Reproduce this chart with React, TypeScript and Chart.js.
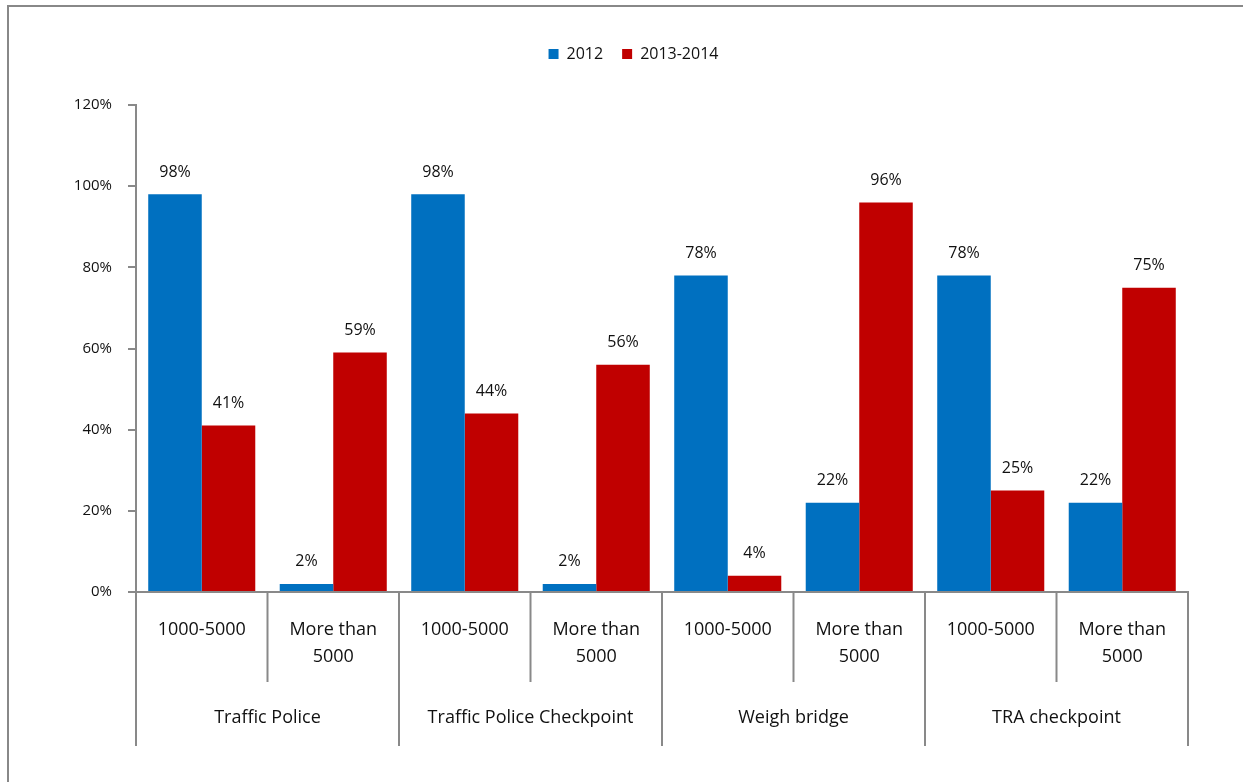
import React, { useEffect, useRef } from "react";
import { Chart, registerables } from "chart.js";

Chart.register(...registerables);

const subCategories: string[][] = [
  ["1000-5000"], ["More than", "5000"],
  ["1000-5000"], ["More than", "5000"],
  ["1000-5000"], ["More than", "5000"],
  ["1000-5000"], ["More than", "5000"],
];
const groups = ["Traffic Police", "Traffic Police Checkpoint", "Weigh bridge", "TRA checkpoint"];
const series2012 = [98, 2, 98, 2, 78, 22, 78, 22];
const series2013_2014 = [41, 59, 44, 56, 4, 96, 25, 75];
const seriesNames = ["2012", "2013-2014"];
const yMax = 120;
const yStep = 20;

const FONT = "'Open Sans', 'Noto Sans', sans-serif";
const GRAY = "#898989";
const TEXT = "#111111";

const multiLevelPlugin = {
  id: "multiLevel",
  afterDraw(chart: any) {
    const { ctx, chartArea, scales } = chart;
    const x = scales.x;
    const n = chart.data.labels.length;
    const perGroup = n / groups.length;
    const bottom = chartArea.bottom;
    ctx.save();
    ctx.strokeStyle = GRAY;
    ctx.lineWidth = 2;
    for (let i = 0; i <= n; i++) {
      const bx =
        i === 0
          ? chartArea.left
          : i === n
          ? chartArea.right
          : (x.getPixelForValue(i - 1) + x.getPixelForValue(i)) / 2;
      const len = i % perGroup === 0 ? 154 : 90;
      ctx.beginPath();
      ctx.moveTo(bx, bottom);
      ctx.lineTo(bx, bottom + len);
      ctx.stroke();
    }
    ctx.fillStyle = TEXT;
    ctx.font = `18px ${FONT}`;
    ctx.textAlign = "center";
    ctx.textBaseline = "middle";
    groups.forEach((g, gi) => {
      const cx =
        (x.getPixelForValue(gi * perGroup) + x.getPixelForValue(gi * perGroup + perGroup - 1)) / 2;
      ctx.fillText(g, cx, bottom + 126);
    });
    ctx.font = `16px ${FONT}`;
    chart.data.datasets.forEach((ds: any, di: number) => {
      chart.getDatasetMeta(di).data.forEach((bar: any, i: number) => {
        ctx.fillText(ds.data[i] + "%", bar.x, bar.y - 22);
      });
    });
    ctx.restore();
  },
};

export default function App() {
  const ref = useRef<HTMLCanvasElement | null>(null);
  useEffect(() => {
    if (!ref.current) return;
    const chart = new Chart(ref.current, {
      type: "bar",
      data: {
        labels: subCategories,
        datasets: [
          { label: seriesNames[0], data: series2012, backgroundColor: "#0070C0", borderWidth: 0 },
          { label: seriesNames[1], data: series2013_2014, backgroundColor: "#C00000", borderWidth: 0 },
        ],
      },
      options: {
        animation: false,
        responsive: false,
        devicePixelRatio: 1,
        layout: { padding: { left: 24, top: 27, right: 0, bottom: 0 } },
        datasets: { bar: { categoryPercentage: 0.814, barPercentage: 1 } },
        plugins: {
          tooltip: { enabled: false },
          legend: {
            position: "top",
            labels: {
              boxWidth: 10,
              boxHeight: 10,
              padding: 19,
              color: TEXT,
              font: { family: FONT, size: 16 },
            },
          },
        },
        scales: {
          x: {
            grid: { display: false, drawTicks: false },
            border: { display: true, color: GRAY, width: 2 },
            ticks: {
              autoSkip: false,
              maxRotation: 0,
              minRotation: 0,
              padding: 24,
              color: TEXT,
              font: { family: FONT, size: 18, lineHeight: 1.5 },
            },
            afterFit(scale: any) {
              scale.height = 190;
              scale.paddingRight = 55;
              scale.paddingLeft = 0;
            },
          },
          xTop: {
            type: "category",
            position: "top",
            grid: { display: false, drawTicks: false },
            border: { display: false },
            ticks: { display: false },
            afterFit(scale: any) {
              scale.height = 33;
              scale.paddingLeft = 0;
              scale.paddingRight = 0;
            },
          },
          y: {
            min: 0,
            max: yMax,
            ticks: {
              stepSize: yStep,
              padding: 16,
              color: TEXT,
              font: { family: FONT, size: 15 },
              callback: (v: any) => v + "%",
            },
            grid: { drawOnChartArea: false, drawTicks: true, tickLength: 8, color: GRAY, lineWidth: 2 },
            border: { display: true, color: GRAY, width: 2 },
            afterFit(scale: any) {
              scale.width = 112;
            },
          },
        },
      },
      plugins: [multiLevelPlugin],
    });
    return () => chart.destroy();
  }, []);

  return (
    <div style={{ position: "fixed", inset: 0, overflow: "hidden", background: "#fff" }}>
      <div
        style={{
          position: "absolute",
          left: 7,
          top: 5,
          width: 3000,
          height: 3000,
          borderLeft: "2px solid #888",
          borderTop: "2px solid #888",
        }}
      />
      <canvas ref={ref} width={1243} height={782} style={{ position: "absolute", left: 0, top: 0 }} />
    </div>
  );
}
